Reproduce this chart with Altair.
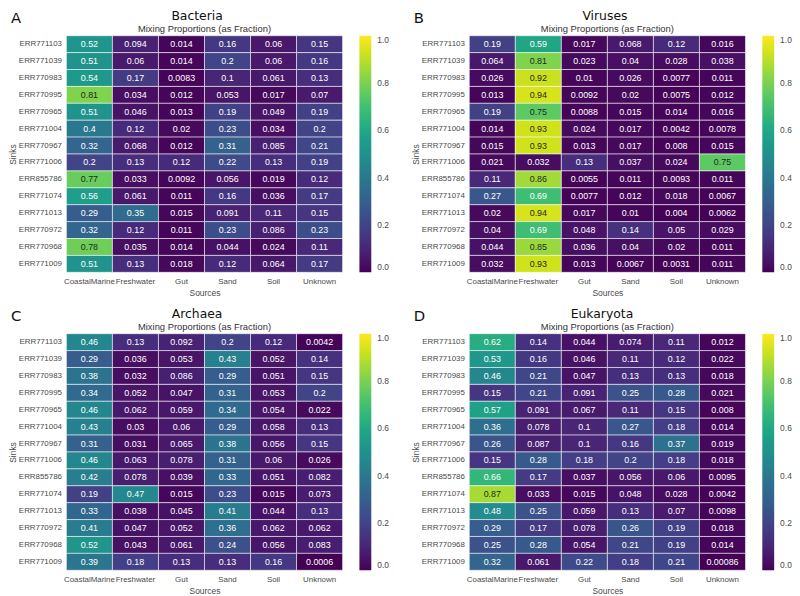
import altair as alt
import pandas as pd

sinks = ["ERR771103", "ERR771039", "ERR770983", "ERR770995", "ERR770965", "ERR771004",
         "ERR770967", "ERR771006", "ERR855786", "ERR771074", "ERR771013", "ERR770972",
         "ERR770968", "ERR771009"]
sources = ["CoastalMarine", "Freshwater", "Gut", "Sand", "Soil", "Unknown"]

bacteria = [
    [0.52, 0.094, 0.014, 0.16, 0.06, 0.15],
    [0.51, 0.06, 0.014, 0.2, 0.06, 0.16],
    [0.54, 0.17, 0.0083, 0.1, 0.061, 0.13],
    [0.81, 0.034, 0.012, 0.053, 0.017, 0.07],
    [0.51, 0.046, 0.013, 0.19, 0.049, 0.19],
    [0.4, 0.12, 0.02, 0.23, 0.034, 0.2],
    [0.32, 0.068, 0.012, 0.31, 0.085, 0.21],
    [0.2, 0.13, 0.12, 0.22, 0.13, 0.19],
    [0.77, 0.033, 0.0092, 0.056, 0.019, 0.12],
    [0.56, 0.061, 0.011, 0.16, 0.036, 0.17],
    [0.29, 0.35, 0.015, 0.091, 0.11, 0.15],
    [0.32, 0.12, 0.011, 0.23, 0.086, 0.23],
    [0.78, 0.035, 0.014, 0.044, 0.024, 0.11],
    [0.51, 0.13, 0.018, 0.12, 0.064, 0.17],
]
viruses = [
    [0.19, 0.59, 0.017, 0.068, 0.12, 0.016],
    [0.064, 0.81, 0.023, 0.04, 0.028, 0.038],
    [0.026, 0.92, 0.01, 0.026, 0.0077, 0.011],
    [0.013, 0.94, 0.0092, 0.02, 0.0075, 0.012],
    [0.19, 0.75, 0.0088, 0.015, 0.014, 0.016],
    [0.014, 0.93, 0.024, 0.017, 0.0042, 0.0078],
    [0.015, 0.93, 0.013, 0.017, 0.008, 0.015],
    [0.021, 0.032, 0.13, 0.037, 0.024, 0.75],
    [0.11, 0.86, 0.0055, 0.011, 0.0093, 0.011],
    [0.27, 0.69, 0.0077, 0.012, 0.018, 0.0067],
    [0.02, 0.94, 0.017, 0.01, 0.004, 0.0062],
    [0.04, 0.69, 0.048, 0.14, 0.05, 0.029],
    [0.044, 0.85, 0.036, 0.04, 0.02, 0.011],
    [0.032, 0.93, 0.013, 0.0067, 0.0031, 0.011],
]
archaea = [
    [0.46, 0.13, 0.092, 0.2, 0.12, 0.0042],
    [0.29, 0.036, 0.053, 0.43, 0.052, 0.14],
    [0.38, 0.032, 0.086, 0.29, 0.051, 0.15],
    [0.34, 0.052, 0.047, 0.31, 0.053, 0.2],
    [0.46, 0.062, 0.059, 0.34, 0.054, 0.022],
    [0.43, 0.03, 0.06, 0.29, 0.058, 0.13],
    [0.31, 0.031, 0.065, 0.38, 0.056, 0.15],
    [0.46, 0.063, 0.078, 0.31, 0.06, 0.026],
    [0.42, 0.078, 0.039, 0.33, 0.051, 0.082],
    [0.19, 0.47, 0.015, 0.23, 0.015, 0.073],
    [0.33, 0.038, 0.045, 0.41, 0.044, 0.13],
    [0.41, 0.047, 0.052, 0.36, 0.062, 0.062],
    [0.52, 0.043, 0.061, 0.24, 0.056, 0.083],
    [0.39, 0.18, 0.13, 0.13, 0.16, 0.0006],
]
eukaryota = [
    [0.62, 0.14, 0.044, 0.074, 0.11, 0.012],
    [0.53, 0.16, 0.046, 0.11, 0.12, 0.022],
    [0.46, 0.21, 0.047, 0.13, 0.13, 0.018],
    [0.15, 0.21, 0.091, 0.25, 0.28, 0.021],
    [0.57, 0.091, 0.067, 0.11, 0.15, 0.008],
    [0.36, 0.078, 0.1, 0.27, 0.18, 0.014],
    [0.26, 0.087, 0.1, 0.16, 0.37, 0.019],
    [0.15, 0.28, 0.18, 0.2, 0.18, 0.018],
    [0.66, 0.17, 0.037, 0.056, 0.06, 0.0095],
    [0.87, 0.033, 0.015, 0.048, 0.028, 0.0042],
    [0.48, 0.25, 0.059, 0.13, 0.07, 0.0098],
    [0.29, 0.17, 0.078, 0.26, 0.19, 0.018],
    [0.25, 0.28, 0.054, 0.21, 0.19, 0.014],
    [0.32, 0.061, 0.22, 0.18, 0.21, 0.00086],
]

subtitle_text = "Mixing Proportions (as Fraction)"
legend_values = [0.0, 0.2, 0.4, 0.6, 0.8, 1.0]

W = 279
H = 239
GREY = "#4a4a4a"
SANS = "Liberation Sans"


def panel(letter, name, vals, title_x):
    rows = []
    for i, s in enumerate(sinks):
        for j, src in enumerate(sources):
            rows.append({"sink": s, "source": src, "value": vals[i][j]})
    df = pd.DataFrame(rows)

    x = alt.X("source:N", sort=sources,
              scale=alt.Scale(paddingInner=0, paddingOuter=0),
              axis=alt.Axis(title="Sources", labelAngle=0, labelFont=SANS, labelFontSize=8,
                            labelColor=GREY, titleFont=SANS, titleFontSize=8.5,
                            titleFontWeight="normal", titleColor=GREY, ticks=False,
                            tickSize=0, domain=False, grid=False, labelPadding=5,
                            titlePadding=3, labelLimit=0))
    y = alt.Y("sink:N", sort=sinks,
              scale=alt.Scale(paddingInner=0, paddingOuter=0),
              axis=alt.Axis(title="Sinks", labelFont=SANS, labelFontSize=8,
                            labelColor=GREY, titleFont=SANS, titleFontSize=8.5,
                            titleFontWeight="normal", titleColor=GREY, ticks=False,
                            tickSize=0, domain=False, grid=False, labelPadding=5,
                            titlePadding=1))

    base = alt.Chart(df)
    rect = base.mark_rect(stroke="#ffffff", strokeWidth=1, strokeOpacity=0.55).encode(
        x=x, y=y,
        color=alt.Color("value:Q",
                        scale=alt.Scale(scheme="viridis", domain=[0, 1]),
                        legend=alt.Legend(title=None, orient="right", offset=17,
                                          gradientLength=H, gradientThickness=12,
                                          gradientStrokeWidth=0, values=legend_values,
                                          format=".1f", labelFont=SANS, labelFontSize=8.5,
                                          labelColor=GREY, labelOffset=6,
                                          labelBaseline="middle", padding=0)),
    )
    text = base.mark_text(font=SANS, fontSize=9).encode(
        x=x, y=y,
        text=alt.Text("value:Q", format=".2~g"),
        color=alt.condition("datum.value > 0.72", alt.value("#262626"), alt.value("#ffffff")),
    )
    letter_mark = alt.Chart(alt.Data(values=[{"t": letter}])).mark_text(
        font="DejaVu Sans", fontSize=15, align="left", baseline="alphabetic", color="#111111"
    ).encode(x=alt.value(-56), y=alt.value(-13), text="t:N")
    title_mark = alt.Chart(alt.Data(values=[{"t": name}])).mark_text(
        font="DejaVu Sans", fontSize=12.5, align="center", baseline="alphabetic", color="#111111"
    ).encode(x=alt.value(title_x), y=alt.value(-16), text="t:N")
    sub_mark = alt.Chart(alt.Data(values=[{"t": subtitle_text}])).mark_text(
        font=SANS, fontSize=9.5, align="center", baseline="alphabetic", color="#333333"
    ).encode(x=alt.value(W / 2), y=alt.value(-3.5), text="t:N")

    return alt.layer(rect, text, letter_mark, title_mark, sub_mark).properties(width=W, height=H)


pa = panel("A", "Bacteria", bacteria, 132)
pb = panel("B", "Viruses", viruses, 137)
pc = panel("C", "Archaea", archaea, 132)
pd_ = panel("D", "Eukaryota", eukaryota, 134)

row1 = alt.hconcat(pa, pb, spacing=22).resolve_scale(color="independent")
row2 = alt.hconcat(pc, pd_, spacing=22).resolve_scale(color="independent")
chart = alt.vconcat(row1, row2, spacing=11).resolve_scale(color="independent").properties(
    padding={"top": -1, "left": 0, "right": 0, "bottom": 0}, background="white"
).configure_view(strokeWidth=0)

chart.save("out.html", embed_options={"renderer": "svg", "actions": False})
